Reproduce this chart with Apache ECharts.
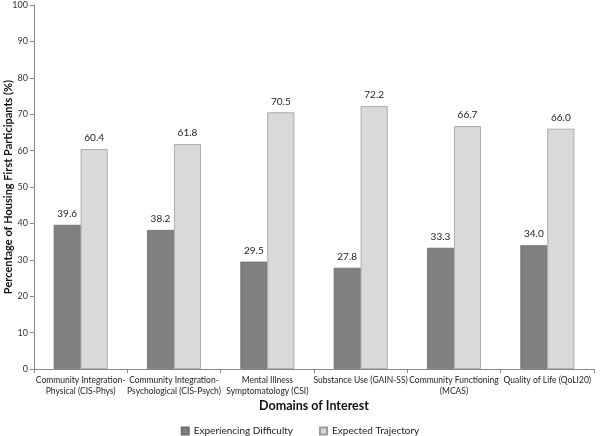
<!DOCTYPE html>
<html><head><meta charset="utf-8">
<script src="https://cdn.jsdelivr.net/npm/echarts@6/dist/echarts.min.js"></script>
<style>html,body{margin:0;padding:0;background:#fff}#c{width:600px;height:436px}</style>
</head><body><div id="c"></div>
<script>
const categories = ['Community Integration-\nPhysical (CIS-Phys)', 'Community Integration-\nPsychological (CIS-Psych)', 'Mental Illness\nSymptomatology (CSI)', 'Substance Use (GAIN-SS)', 'Community Functioning\n(MCAS)', 'Quality of Life (QoLI20)'];
const experiencingDifficulty = [39.6, 38.2, 29.5, 27.8, 33.3, 34.0];
const expectedTrajectory = [60.4, 61.8, 70.5, 72.2, 66.7, 66.0];
const yTicks = {min: 0, max: 100, interval: 10};
const font = 'Lato, "Open Sans", sans-serif';
const chart = echarts.init(document.getElementById('c'));
const lbl = {show: true, position: 'top', color: '#222', fontSize: 10, fontFamily: font, formatter: p => p.value.toFixed(1), distance: 6};
chart.setOption({
  animation: false,
  textStyle: {fontFamily: font},
  grid: {left: 34, right: 6, top: 5, bottom: 67, outerBoundsMode: 'none', containLabel: false},
  legend: {top: 421, left: 'center', itemWidth: 7, itemHeight: 7, itemGap: 26, icon: 'rect',
    textStyle: {fontSize: 10, color: '#222', fontFamily: font},
    data: ['Experiencing Difficulty', 'Expected Trajectory']},
  xAxis: {type: 'category', data: categories,
    name: 'Domains of Interest', nameLocation: 'middle', nameGap: 30, nameMoveOverlap: false,
    nameTextStyle: {fontWeight: 'bold', fontSize: 12.5, color: '#111', fontFamily: font},
    axisLine: {lineStyle: {color: '#888'}}, axisTick: {show: true, alignWithLabel: false, length: 4, lineStyle: {color: '#888'}},
    axisLabel: {interval: 0, fontSize: 8.5, color: '#222', lineHeight: 11, margin: 6, fontFamily: font}},
  yAxis: {type: 'value', min: yTicks.min, max: yTicks.max, interval: yTicks.interval,
    name: 'Percentage of Housing First Participants (%)', nameLocation: 'middle', nameGap: 20, nameRotate: 90, nameMoveOverlap: false,
    nameTextStyle: {fontWeight: 'bold', fontSize: 11, color: '#111', fontFamily: font},
    axisLine: {show: true, lineStyle: {color: '#888'}}, axisTick: {show: true, length: 4, lineStyle: {color: '#888'}},
    splitLine: {show: false},
    axisLabel: {fontSize: 9, color: '#333', margin: 6, fontFamily: font}},
  series: [
    {name: 'Experiencing Difficulty', type: 'bar', data: experiencingDifficulty, barWidth: 27, barGap: '0%',
     itemStyle: {color: '#808080', borderColor: '#6e6e6e', borderWidth: 0.8}, label: lbl},
    {name: 'Expected Trajectory', type: 'bar', data: expectedTrajectory, barWidth: 27,
     itemStyle: {color: '#d9d9d9', borderColor: '#9a9a9a', borderWidth: 0.8}, label: lbl}
  ]
});
</script></body></html>
